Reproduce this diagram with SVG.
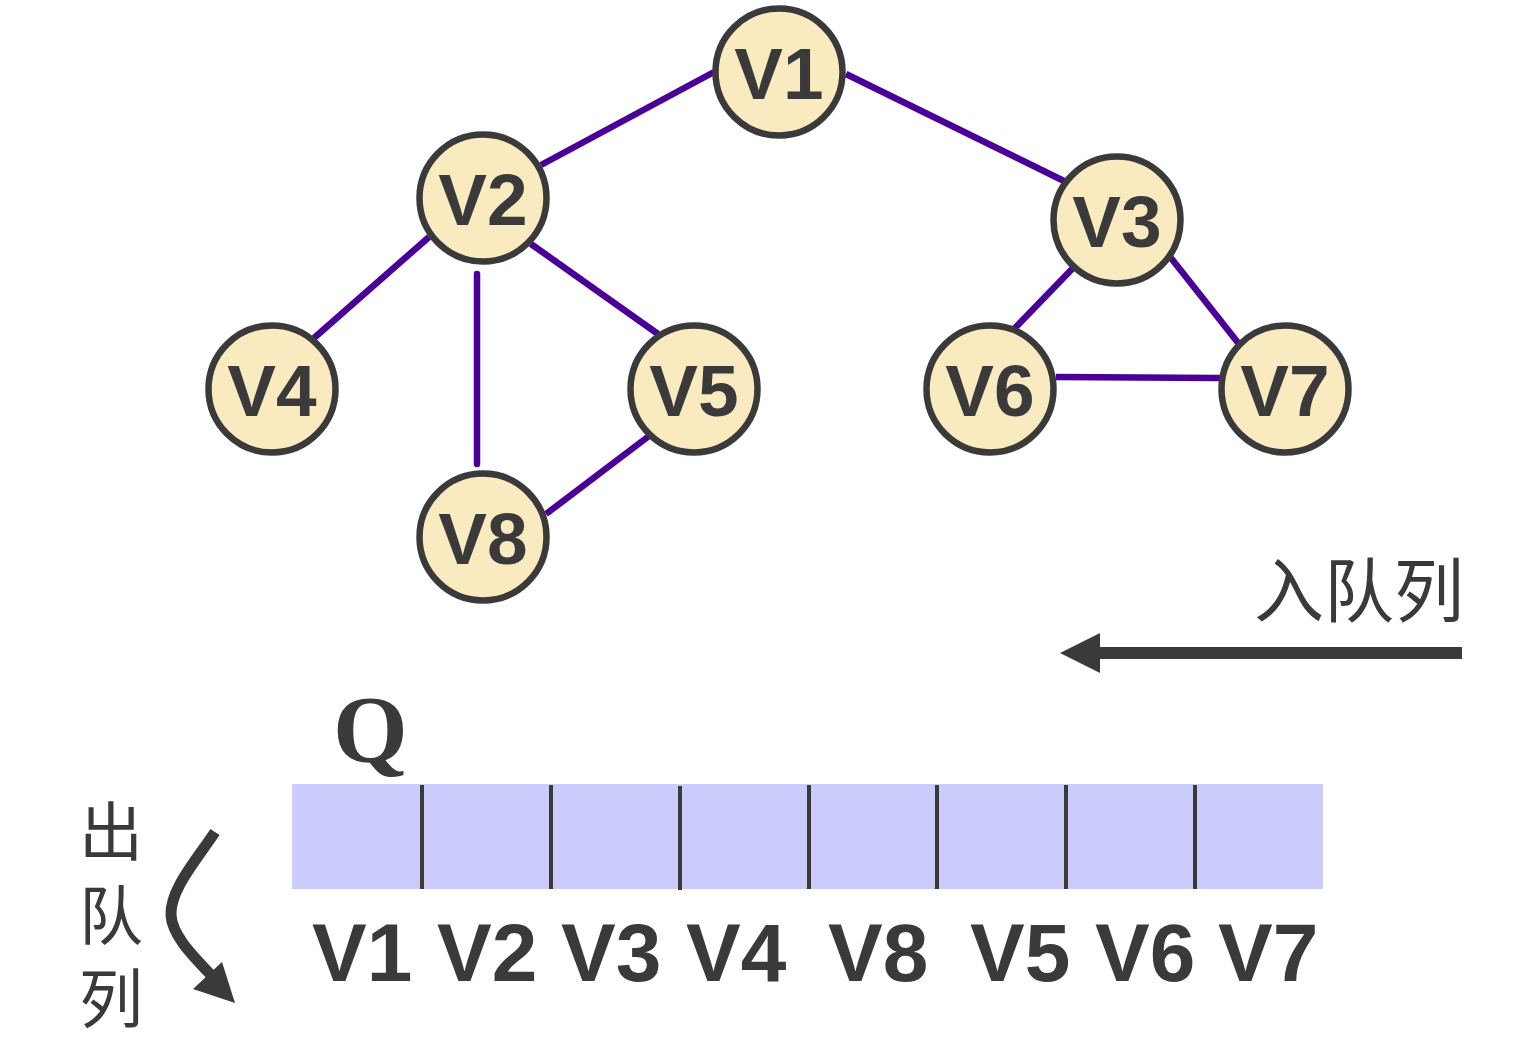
<svg xmlns="http://www.w3.org/2000/svg" width="1523" height="1038" viewBox="0 0 1523 1038">
<style>
.edge{stroke:#4a0098;stroke-width:6.5;stroke-linecap:butt;fill:none}
.node circle{fill:#faeac0;stroke:#3a3a3a;stroke-width:6.5}
.node text{font-family:"Liberation Sans",Arial,sans-serif;font-weight:bold;font-size:73px;fill:#3a3a3a;text-anchor:middle}
.ql{font-family:"Liberation Sans",Arial,sans-serif;font-weight:bold;font-size:82px;fill:#3a3a3a}
.cjk{font-family:"Noto Sans CJK SC","Noto Sans CJK JP",sans-serif;fill:#3a3a3a}
.div{stroke:#3a3a3a;stroke-width:4}
</style>
<rect width="1523" height="1038" fill="#ffffff"/>
<g id="connectors">
<line class="edge" x1="714" y1="72" x2="541" y2="165"/>
<line class="edge" x1="846" y1="74" x2="1064" y2="181"/>
<line class="edge" x1="429" y1="237" x2="314" y2="338"/>
<line class="edge" x1="477" y1="274" x2="477" y2="464" style="stroke-linecap:round"/>
<line class="edge" x1="531" y1="244" x2="658" y2="334"/>
<line class="edge" x1="649" y1="436" x2="546" y2="514"/>
<line class="edge" x1="1073" y1="268" x2="1014" y2="329"/>
<line class="edge" x1="1171" y1="258" x2="1239" y2="344"/>
<line class="edge" x1="1056" y1="377" x2="1220" y2="378"/>
</g>
<g id="V1" class="node"><circle cx="779" cy="72" r="63.5"/><text x="779" y="99">V1</text></g>
<g id="V2" class="node"><circle cx="483" cy="198" r="63.5"/><text x="483" y="225">V2</text></g>
<g id="V3" class="node"><circle cx="1117" cy="220" r="63.5"/><text x="1117" y="247">V3</text></g>
<g id="V4" class="node"><circle cx="272" cy="389" r="63.5"/><text x="272" y="416">V4</text></g>
<g id="V5" class="node"><circle cx="694" cy="389" r="63.5"/><text x="694" y="416">V5</text></g>
<g id="V6" class="node"><circle cx="990" cy="389" r="63.5"/><text x="990" y="416">V6</text></g>
<g id="V7" class="node"><circle cx="1285" cy="389" r="63.5"/><text x="1285" y="416">V7</text></g>
<g id="V8" class="node"><circle cx="483" cy="537" r="63.5"/><text x="483" y="564">V8</text></g>
<g id="enqueue">
<text class="cjk" x="1254" y="617" font-size="70">入队列</text>
<line x1="1462" y1="653" x2="1095" y2="653" stroke="#3a3a3a" stroke-width="12"/>
<polygon points="1060,653 1100,633 1100,673" fill="#3a3a3a"/>
</g>
<g id="queue">
<text x="333" y="762" font-family="'Liberation Serif','Times New Roman',serif" font-weight="bold" font-size="96" fill="#3a3a3a">Q</text>
<rect x="292" y="784" width="1031" height="105" fill="#ccccfc"/>
<line class="div" x1="422" y1="785" x2="422" y2="889"/>
<line class="div" x1="551" y1="785" x2="551" y2="889"/>
<line class="div" x1="680" y1="786" x2="680" y2="890"/>
<line class="div" x1="809" y1="785" x2="809" y2="889"/>
<line class="div" x1="937" y1="785" x2="937" y2="889"/>
<line class="div" x1="1066" y1="785" x2="1066" y2="889"/>
<line class="div" x1="1195" y1="785" x2="1195" y2="889"/>
<text class="ql" x="312" y="981">V1</text>
<text class="ql" x="437" y="981">V2</text>
<text class="ql" x="561" y="981">V3</text>
<text class="ql" x="686" y="981">V4</text>
<text class="ql" x="828" y="981">V8</text>
<text class="ql" x="970" y="981">V5</text>
<text class="ql" x="1095" y="981">V6</text>
<text class="ql" x="1218" y="981">V7</text>
</g>
<g id="dequeue">
<text class="cjk" x="79" y="855" font-size="64">出</text>
<text class="cjk" x="79" y="939" font-size="64">队</text>
<text class="cjk" x="79" y="1022" font-size="64">列</text>
<path d="M215,832 C195,862 170,890 171,915 C172,935 192,955 212,976" stroke="#3a3a3a" stroke-width="11" fill="none"/>
<polygon points="193,989 235,1003 222,962" fill="#3a3a3a"/>
</g>
</svg>
